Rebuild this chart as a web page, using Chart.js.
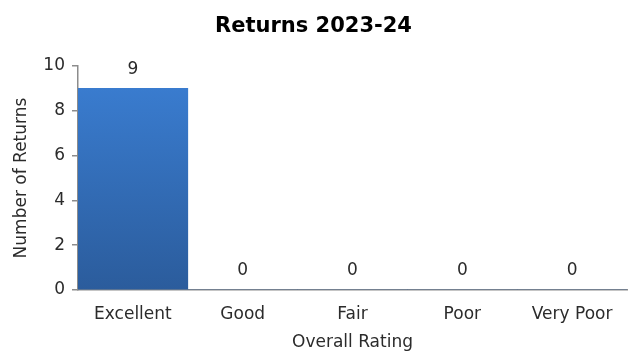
<!DOCTYPE html>
<html>
<head>
<meta charset="utf-8">
<script src="https://cdn.jsdelivr.net/npm/chart.js@4"></script>
<style>
  html, body { margin: 0; padding: 0; background: #ffffff; }
  #wrap { width: 637px; height: 354px; position: relative; }
</style>
</head>
<body>
<div id="wrap"><canvas id="chart" width="637" height="354"></canvas></div>
<script>
const categories = ['Excellent', 'Good', 'Fair', 'Poor', 'Very Poor'];
const returnsCount = [9, 0, 0, 0, 0];
const yTicks = [0, 2, 4, 6, 8, 10];

const FONT = "'DejaVu Sans', sans-serif";
const TEXT = '#2b2b2b';
const SIZE = 17;

// Writes each bar's value just above its top
const valueLabels = {
  id: 'valueLabels',
  afterDatasetsDraw(chart) {
    const ctx = chart.ctx;
    const meta = chart.getDatasetMeta(0);
    ctx.save();
    ctx.font = SIZE + 'px ' + FONT;
    ctx.fillStyle = TEXT;
    ctx.textAlign = 'center';
    ctx.textBaseline = 'middle';
    meta.data.forEach((bar, i) => {
      ctx.fillText(String(returnsCount[i]), bar.x, bar.y - 19);
    });
    ctx.restore();
  }
};

function barGradient(context) {
  const area = context.chart.chartArea;
  if (!area) return '#3470c0';
  const g = context.chart.ctx.createLinearGradient(0, area.top, 0, area.bottom);
  g.addColorStop(0, '#3b7fd4');
  g.addColorStop(1, '#2b5c9c');
  return g;
}

new Chart(document.getElementById('chart'), {
  type: 'bar',
  data: {
    labels: categories,
    datasets: [{
      data: returnsCount,
      backgroundColor: barGradient,
      borderWidth: 0,
      barPercentage: 1.0,
      categoryPercentage: 1.0
    }]
  },
  options: {
    responsive: false,
    animation: false,
    layout: { padding: { left: 0, right: 10, top: 0, bottom: 0 } },
    plugins: {
      legend: { display: false },
      tooltip: { enabled: false },
      title: {
        display: true,
        text: 'Returns 2023-24',
        color: '#000000',
        font: { family: FONT, size: 21, weight: 'bold', lineHeight: 1.2 },
        padding: { top: 14, bottom: 26.8 }
      }
    },
    scales: {
      x: {
        afterFit(axis) { axis.height = 64; },
        grid: { display: false, drawTicks: false },
        border: { display: true, color: '#8c8c8c', width: 1.5 },
        ticks: { color: TEXT, font: { family: FONT, size: SIZE, lineHeight: 1.2 }, padding: 14.8, maxRotation: 0 },
        title: {
          display: true,
          text: 'Overall Rating',
          color: TEXT,
          font: { family: FONT, size: SIZE, lineHeight: 1.2 },
          padding: { top: 6.6, bottom: 1 }
        }
      },
      y: {
        min: 0,
        max: 10,
        afterFit(axis) { axis.width = 78; },
        afterBuildTicks(axis) { axis.ticks = yTicks.map(v => ({ value: v })); },
        grid: { display: true, drawOnChartArea: false, drawTicks: true, tickLength: 6, color: '#8c8c8c', lineWidth: 1.5 },
        border: { display: true, color: '#8c8c8c', width: 1.5 },
        ticks: { color: TEXT, font: { family: FONT, size: SIZE, lineHeight: 1.2 }, padding: 7 },
        title: {
          display: true,
          text: 'Number of Returns',
          color: TEXT,
          font: { family: FONT, size: SIZE, lineHeight: 1.2 },
          padding: { top: 11.8, bottom: 0 }
        }
      }
    }
  },
  plugins: [valueLabels]
});
</script>
</body>
</html>
